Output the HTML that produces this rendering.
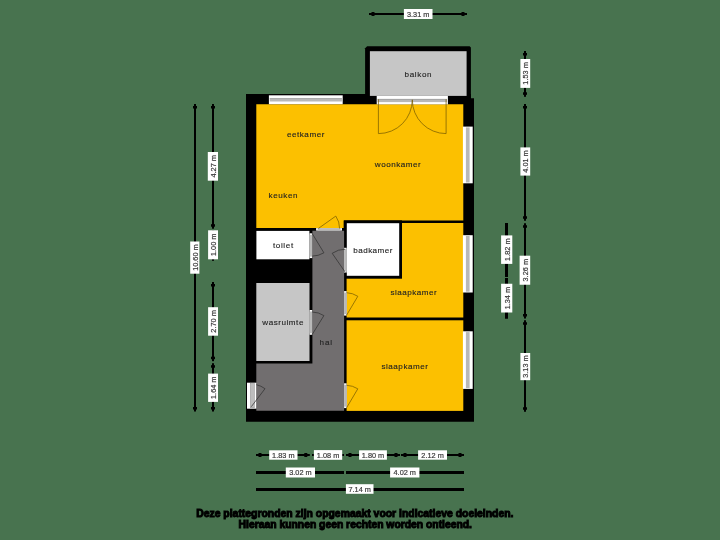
<!DOCTYPE html>
<html><head><meta charset="utf-8"><style>
html,body{margin:0;padding:0;background:#48734f;}
body{width:720px;height:540px;overflow:hidden;position:relative;font-family:"Liberation Sans",sans-serif;}
svg{position:absolute;left:0;top:0;will-change:transform;}
svg text{font-family:"Liberation Sans",sans-serif;}
</style></head><body>
<svg width="720" height="540" viewBox="0 0 720 540">
<rect x="0" y="0" width="720" height="540" fill="#48734f"/>
<path d="M246,94 H470.9 V98.3 H474 V421.8 H246 Z" fill="#000"/>
<path d="M367.1,46.2 H469.6 L470.9,47.5 V98.3 H365.1 V48.2 Z" fill="#000"/>
<rect x="369.9" y="51.2" width="96.7" height="44.7" fill="#c6c6c6"/>
<path d="M256.3,104.2 H463.3 V220.4 H343.8 V227.9 H256.3 Z" fill="#fcc000"/>
<rect x="346.6" y="223" width="116.7" height="94.5" fill="#fcc000"/>
<rect x="343.8" y="220.4" width="58.2" height="58.3" fill="#000"/>
<rect x="346.8" y="223.2" width="52.4" height="52.6" fill="#fff"/>
<rect x="346.6" y="320.3" width="116.7" height="90.6" fill="#fcc000"/>
<path d="M312.4,230.8 H344.1 V410.8 H256.3 V363.6 H312.4 Z" fill="#716e6f"/>
<rect x="256.4" y="230.9" width="53.0" height="28.4" fill="#fff"/>
<rect x="256.3" y="283" width="53.2" height="78" fill="#c6c6c6"/>
<rect x="268.9" y="95.3" width="73.8" height="8.9" fill="#fff"/>
<rect x="269.7" y="98.5" width="72.2" height="3.0" fill="#b8b8b8"/>
<rect x="269.7" y="98.3" width="72.2" height="0.6" fill="#8c8c8c"/>
<rect x="376.7" y="95.9" width="71.2" height="8.5" fill="#fff"/>
<rect x="377.5" y="99.10000000000001" width="69.6" height="3.0" fill="#b8b8b8"/>
<rect x="377.5" y="98.9" width="69.6" height="0.6" fill="#8c8c8c"/>
<rect x="462.9" y="126.6" width="9.8" height="56.7" fill="#fff"/>
<rect x="465.9" y="127.39999999999999" width="3.7" height="55.1" fill="#b8b8b8"/>
<rect x="462.9" y="235.2" width="9.8" height="57.3" fill="#fff"/>
<rect x="465.9" y="236.0" width="3.7" height="55.7" fill="#b8b8b8"/>
<rect x="462.9" y="331.3" width="9.8" height="57.6" fill="#fff"/>
<rect x="465.9" y="332.1" width="3.7" height="56.0" fill="#b8b8b8"/>
<rect x="247" y="382.7" width="9.3" height="26.0" fill="#fff"/>
<rect x="250.4" y="383.6" width="3.9" height="24.2" fill="#bdbdbd" stroke="#8a8a8a" stroke-width="0.5"/>
<rect x="316.1" y="228.1" width="25.9" height="2.5" fill="#fff"/>
<rect x="317.6" y="228.1" width="22.9" height="2.5" fill="#b9b9b9"/>
<rect x="309.6" y="233.3" width="2.6" height="24.8" fill="#fff"/>
<rect x="309.6" y="234.8" width="2.6" height="21.8" fill="#b9b9b9"/>
<rect x="344.1" y="247.8" width="2.5" height="24.8" fill="#fff"/>
<rect x="344.1" y="249.3" width="2.5" height="21.8" fill="#b9b9b9"/>
<rect x="344.1" y="291.1" width="2.5" height="24.5" fill="#fff"/>
<rect x="344.1" y="292.6" width="2.5" height="21.5" fill="#b9b9b9"/>
<rect x="309.6" y="310" width="2.6" height="24.8" fill="#fff"/>
<rect x="309.6" y="311.5" width="2.6" height="21.8" fill="#b9b9b9"/>
<rect x="344.1" y="383.3" width="2.5" height="24.8" fill="#fff"/>
<rect x="344.1" y="384.8" width="2.5" height="21.8" fill="#b9b9b9"/>
<path d="M318.3,228.5 L335.8,216.1 A21.4,21.4 0 0 1 339.6,228.5" fill="none" stroke="#7a5e00" stroke-width="0.75"/>
<path d="M312.2,233.5 L323.9,252.8 A22.6,22.6 0 0 1 312.2,256.1" fill="none" stroke="#333" stroke-width="0.75"/>
<path d="M345.3,272.3 L332.2,253.3 A23.1,23.1 0 0 1 345.3,249.2" fill="none" stroke="#333" stroke-width="0.75"/>
<path d="M346.6,315.2 L357.8,296.3 A22.5,22.5 0 0 0 346.6,292.7" fill="none" stroke="#7a5e00" stroke-width="0.75"/>
<path d="M312.2,334.5 L323.9,315.6 A22.5,22.5 0 0 0 312.2,312" fill="none" stroke="#333" stroke-width="0.75"/>
<path d="M346.6,407.8 L357.8,388.8 A22.5,22.5 0 0 0 346.6,385.3" fill="none" stroke="#7a5e00" stroke-width="0.75"/>
<path d="M251.3,406.7 L265,388.7 A22.6,22.6 0 0 0 256.3,384.7" fill="none" stroke="#333" stroke-width="0.75"/>
<path d="M378.4,99.3 L378.4,133.6 A33.8,33.8 0 0 0 412.3,99.8" fill="none" stroke="#7a5e00" stroke-width="0.75"/>
<path d="M446.1,99.3 L446.1,133.6 A33.8,33.8 0 0 1 412.3,99.8" fill="none" stroke="#7a5e00" stroke-width="0.75"/>
<text x="286.90000000000003" y="137.4" font-size="8.1" fill="#222" stroke="#222" stroke-width="0.12" textLength="37.5" lengthAdjust="spacing">eetkamer</text>
<text x="374.8" y="167.29999999999998" font-size="8.1" fill="#222" stroke="#222" stroke-width="0.12" textLength="45.9" lengthAdjust="spacing">woonkamer</text>
<text x="268.6" y="198.4" font-size="8.1" fill="#222" stroke="#222" stroke-width="0.12" textLength="28.9" lengthAdjust="spacing">keuken</text>
<text x="272.90000000000003" y="248.2" font-size="8.1" fill="#222" stroke="#222" stroke-width="0.12" textLength="20.3" lengthAdjust="spacing">toilet</text>
<text x="353.3" y="252.9" font-size="8.1" fill="#222" stroke="#222" stroke-width="0.12" textLength="39.1" lengthAdjust="spacing">badkamer</text>
<text x="390.40000000000003" y="294.70000000000005" font-size="8.1" fill="#222" stroke="#222" stroke-width="0.12" textLength="46.2" lengthAdjust="spacing">slaapkamer</text>
<text x="381.5" y="368.8" font-size="8.1" fill="#222" stroke="#222" stroke-width="0.12" textLength="46.4" lengthAdjust="spacing">slaapkamer</text>
<text x="319.6" y="345.1" font-size="8.1" fill="#222" stroke="#222" stroke-width="0.12" textLength="12.5" lengthAdjust="spacing">hal</text>
<text x="262.3" y="324.90000000000003" font-size="8.1" fill="#222" stroke="#222" stroke-width="0.12" textLength="41.1" lengthAdjust="spacing">wasruimte</text>
<text x="404.6" y="76.8" font-size="8.1" fill="#222" stroke="#222" stroke-width="0.12" textLength="27.0" lengthAdjust="spacing">balkon</text>
<rect x="369" y="13" width="98" height="2" fill="#000"/>
<rect x="371.5" y="12.0" width="3.0" height="4.0" fill="#000"/>
<rect x="461.5" y="12.0" width="3.0" height="4.0" fill="#000"/>
<rect x="403.9" y="9" width="28.6" height="10" fill="#fff"/>
<text transform="translate(418.2,14.0) scale(0.092,0.1)" x="0" y="29" font-size="80" fill="#3a3a3a" stroke="#3a3a3a" stroke-width="2" text-anchor="middle">3.31 m</text>
<rect x="194" y="104" width="2" height="307.5" fill="#000"/>
<rect x="193.0" y="106" width="4.0" height="2.5" fill="#000"/>
<rect x="193.0" y="407.0" width="4.0" height="2.5" fill="#000"/>
<rect x="190.2" y="241.5" width="9.2" height="32.2" fill="#fff"/>
<text transform="translate(194.8,257.6) rotate(-90) scale(0.092,0.1)" x="0" y="29" font-size="80" fill="#3a3a3a" stroke="#3a3a3a" stroke-width="2" text-anchor="middle">10.60 m</text>
<rect x="212" y="104" width="2" height="124.7" fill="#000"/>
<rect x="211.0" y="106" width="4.0" height="2.5" fill="#000"/>
<rect x="211.0" y="224.2" width="4.0" height="2.5" fill="#000"/>
<rect x="207.8" y="152" width="10.2" height="28.7" fill="#fff"/>
<text transform="translate(212.9,166.35) rotate(-90) scale(0.092,0.1)" x="0" y="29" font-size="80" fill="#3a3a3a" stroke="#3a3a3a" stroke-width="2" text-anchor="middle">4.27 m</text>
<rect x="212" y="230.5" width="2" height="30.3" fill="#000"/>
<rect x="211.0" y="232.5" width="4.0" height="2.5" fill="#000"/>
<rect x="211.0" y="256.3" width="4.0" height="2.5" fill="#000"/>
<rect x="208.1" y="230.3" width="9.9" height="29.0" fill="#fff"/>
<text transform="translate(213.05,244.8) rotate(-90) scale(0.092,0.1)" x="0" y="29" font-size="80" fill="#3a3a3a" stroke="#3a3a3a" stroke-width="2" text-anchor="middle">1.00 m</text>
<rect x="212" y="282" width="2" height="79.2" fill="#000"/>
<rect x="211.0" y="284" width="4.0" height="2.5" fill="#000"/>
<rect x="211.0" y="356.7" width="4.0" height="2.5" fill="#000"/>
<rect x="208.1" y="307.2" width="9.9" height="28.5" fill="#fff"/>
<text transform="translate(213.05,321.45) rotate(-90) scale(0.092,0.1)" x="0" y="29" font-size="80" fill="#3a3a3a" stroke="#3a3a3a" stroke-width="2" text-anchor="middle">2.70 m</text>
<rect x="212" y="363.2" width="2" height="48.3" fill="#000"/>
<rect x="211.0" y="365.2" width="4.0" height="2.5" fill="#000"/>
<rect x="211.0" y="407.0" width="4.0" height="2.5" fill="#000"/>
<rect x="208.1" y="373.6" width="9.9" height="28.3" fill="#fff"/>
<text transform="translate(213.05,387.75) rotate(-90) scale(0.092,0.1)" x="0" y="29" font-size="80" fill="#3a3a3a" stroke="#3a3a3a" stroke-width="2" text-anchor="middle">1.64 m</text>
<rect x="524" y="51" width="2" height="45.8" fill="#000"/>
<rect x="523.0" y="53" width="4.0" height="2.5" fill="#000"/>
<rect x="523.0" y="92.3" width="4.0" height="2.5" fill="#000"/>
<rect x="520.4" y="59" width="9.8" height="28.9" fill="#fff"/>
<text transform="translate(525.3,73.45) rotate(-90) scale(0.092,0.1)" x="0" y="29" font-size="80" fill="#3a3a3a" stroke="#3a3a3a" stroke-width="2" text-anchor="middle">1.53 m</text>
<rect x="524" y="104" width="2" height="116.75" fill="#000"/>
<rect x="523.0" y="106" width="4.0" height="2.5" fill="#000"/>
<rect x="523.0" y="216.25" width="4.0" height="2.5" fill="#000"/>
<rect x="520.4" y="147.4" width="9.8" height="28.2" fill="#fff"/>
<text transform="translate(525.3,161.5) rotate(-90) scale(0.092,0.1)" x="0" y="29" font-size="80" fill="#3a3a3a" stroke="#3a3a3a" stroke-width="2" text-anchor="middle">4.01 m</text>
<rect x="524" y="223.25" width="2" height="95.25" fill="#000"/>
<rect x="523.0" y="225.25" width="4.0" height="2.5" fill="#000"/>
<rect x="523.0" y="314.0" width="4.0" height="2.5" fill="#000"/>
<rect x="519.6" y="255.7" width="10.6" height="29.05" fill="#fff"/>
<text transform="translate(524.9000000000001,270.225) rotate(-90) scale(0.092,0.1)" x="0" y="29" font-size="80" fill="#3a3a3a" stroke="#3a3a3a" stroke-width="2" text-anchor="middle">3.26 m</text>
<rect x="524" y="320.25" width="2" height="91.5" fill="#000"/>
<rect x="523.0" y="322.25" width="4.0" height="2.5" fill="#000"/>
<rect x="523.0" y="407.25" width="4.0" height="2.5" fill="#000"/>
<rect x="520.4" y="353" width="9.8" height="27.2" fill="#fff"/>
<text transform="translate(525.3,366.6) rotate(-90) scale(0.092,0.1)" x="0" y="29" font-size="80" fill="#3a3a3a" stroke="#3a3a3a" stroke-width="2" text-anchor="middle">3.13 m</text>
<rect x="505" y="223" width="3" height="54" fill="#000"/>
<rect x="501.1" y="235.4" width="11.2" height="28.5" fill="#fff"/>
<text transform="translate(506.7,249.64999999999998) rotate(-90) scale(0.092,0.1)" x="0" y="29" font-size="80" fill="#3a3a3a" stroke="#3a3a3a" stroke-width="2" text-anchor="middle">1.82 m</text>
<rect x="505" y="278" width="3" height="40.75" fill="#000"/>
<rect x="501.1" y="283.75" width="11.2" height="28.75" fill="#fff"/>
<text transform="translate(506.7,298.125) rotate(-90) scale(0.092,0.1)" x="0" y="29" font-size="80" fill="#3a3a3a" stroke="#3a3a3a" stroke-width="2" text-anchor="middle">1.34 m</text>
<rect x="256" y="454" width="53.8" height="2" fill="#000"/>
<rect x="258.5" y="453.0" width="3.0" height="4.0" fill="#000"/>
<rect x="304.3" y="453.0" width="3.0" height="4.0" fill="#000"/>
<rect x="269.2" y="450.3" width="28.3" height="9.4" fill="#fff"/>
<text transform="translate(283.35,455.0) scale(0.092,0.1)" x="0" y="29" font-size="80" fill="#3a3a3a" stroke="#3a3a3a" stroke-width="2" text-anchor="middle">1.83 m</text>
<rect x="312" y="454" width="32" height="2" fill="#000"/>
<rect x="314.5" y="453.0" width="3.0" height="4.0" fill="#000"/>
<rect x="338.5" y="453.0" width="3.0" height="4.0" fill="#000"/>
<rect x="313.9" y="450.1" width="28.3" height="9.7" fill="#fff"/>
<text transform="translate(328.04999999999995,454.95000000000005) scale(0.092,0.1)" x="0" y="29" font-size="80" fill="#3a3a3a" stroke="#3a3a3a" stroke-width="2" text-anchor="middle">1.08 m</text>
<rect x="346" y="454" width="54" height="2" fill="#000"/>
<rect x="348.5" y="453.0" width="3.0" height="4.0" fill="#000"/>
<rect x="394.5" y="453.0" width="3.0" height="4.0" fill="#000"/>
<rect x="359.1" y="450.3" width="27.8" height="9.4" fill="#fff"/>
<text transform="translate(373.0,455.0) scale(0.092,0.1)" x="0" y="29" font-size="80" fill="#3a3a3a" stroke="#3a3a3a" stroke-width="2" text-anchor="middle">1.80 m</text>
<rect x="401" y="454" width="63" height="2" fill="#000"/>
<rect x="403.5" y="453.0" width="3.0" height="4.0" fill="#000"/>
<rect x="458.5" y="453.0" width="3.0" height="4.0" fill="#000"/>
<rect x="418.1" y="450.3" width="28.9" height="9.4" fill="#fff"/>
<text transform="translate(432.55,455.0) scale(0.092,0.1)" x="0" y="29" font-size="80" fill="#3a3a3a" stroke="#3a3a3a" stroke-width="2" text-anchor="middle">2.12 m</text>
<rect x="256" y="471" width="88" height="3" fill="#000"/>
<rect x="285.8" y="467.5" width="29.2" height="10.0" fill="#fff"/>
<text transform="translate(300.4,472.5) scale(0.092,0.1)" x="0" y="29" font-size="80" fill="#3a3a3a" stroke="#3a3a3a" stroke-width="2" text-anchor="middle">3.02 m</text>
<rect x="346" y="471" width="118" height="3" fill="#000"/>
<rect x="390.1" y="467.5" width="29.3" height="10.0" fill="#fff"/>
<text transform="translate(404.75,472.5) scale(0.092,0.1)" x="0" y="29" font-size="80" fill="#3a3a3a" stroke="#3a3a3a" stroke-width="2" text-anchor="middle">4.02 m</text>
<rect x="256" y="488" width="208" height="3" fill="#000"/>
<rect x="345.9" y="484.2" width="27.6" height="9.6" fill="#fff"/>
<text transform="translate(359.7,489.0) scale(0.092,0.1)" x="0" y="29" font-size="80" fill="#3a3a3a" stroke="#3a3a3a" stroke-width="2" text-anchor="middle">7.14 m</text>
<text x="196.2" y="516.6" font-size="11" font-weight="bold" fill="#000" stroke="#000" stroke-width="1.0" textLength="317.3" lengthAdjust="spacingAndGlyphs">Deze plattegronden zijn opgemaakt voor indicatieve doeleinden.</text>
<text x="238.6" y="528.3" font-size="11" font-weight="bold" fill="#000" stroke="#000" stroke-width="1.0" textLength="233.4" lengthAdjust="spacingAndGlyphs">Hieraan kunnen geen rechten worden ontleend.</text>
</svg>

</body></html>
